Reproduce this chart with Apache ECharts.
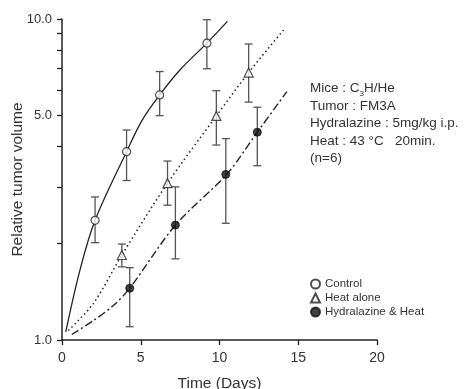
<!DOCTYPE html>
<html>
<head>
<meta charset="utf-8">
<script src="https://cdn.jsdelivr.net/npm/echarts@6/dist/echarts.min.js"></script>
<style>
  html, body { margin: 0; padding: 0; background: #fff; }
  #main { width: 464px; height: 389px; }
</style>
</head>
<body>
<div id="main"></div>
<script>
// measured points (x = days, y = relative volume) with error bar ends
const controlX  = [2.1, 4.1, 6.2, 9.2];
const controlY  = [2.36, 3.86, 5.8, 8.41];
const controlLo = [2.01, 3.14, 5.0, 7.0];
const controlHi = [2.79, 4.51, 6.86, 9.95];

const heatX  = [3.8, 6.7, 9.8, 11.85];
const heatY  = [1.84, 3.08, 4.99, 6.81];
const heatLo = [1.69, 2.63, 4.05, 5.51];
const heatHi = [1.99, 3.61, 5.98, 8.36];

const hydX  = [4.3, 7.2, 10.4, 12.4];
const hydY  = [1.45, 2.28, 3.28, 4.44];
const hydLo = [1.10, 1.79, 2.31, 3.49];
const hydHi = [1.68, 3.0, 4.24, 5.31];

// fitted curves as drawn
const controlCurve = [[0.24, 1.06], [1.14, 1.65], [2.1, 2.36], [4.1, 3.86],
  [5.1, 4.85], [6.2, 5.8], [7.5, 6.95], [9.2, 8.41], [10.5, 9.83]];
const heatCurve = [[0.4, 1.07], [2.0, 1.3], [3.8, 1.84], [6.7, 3.08], [9.8, 4.99], [11.85, 6.81], [14.17, 9.37]];
const hydCurve = [[0.62, 1.04], [2.0, 1.15], [3.26, 1.28], [4.3, 1.45], [7.2, 2.28], [10.5, 3.3], [12.4, 4.44], [14.28, 5.94]];

const yTicks = [1, 2, 3, 4, 5, 6, 7, 8, 9, 10];
const yLabels = [1, 5, 10];

const FONT = 'Liberation Sans, Arial, sans-serif';
const INK = '#222';

const pts = (xs, ys) => xs.map((x, i) => [x, ys[i]]);
const bars = (xs, lo, hi) => xs.map((x, i) => [x, lo[i], hi[i]]);

function errBar(params, api) {
  const x = api.value(0);
  const a = api.coord([x, api.value(1)]);
  const b = api.coord([x, api.value(2)]);
  const w = 4;
  const st = { stroke: '#555', lineWidth: 1.3 };
  return {
    type: 'group',
    children: [
      { type: 'line', shape: { x1: a[0], y1: a[1], x2: b[0], y2: b[1] }, style: st },
      { type: 'line', shape: { x1: a[0] - w, y1: a[1], x2: a[0] + w, y2: a[1] }, style: st },
      { type: 'line', shape: { x1: b[0] - w, y1: b[1], x2: b[0] + w, y2: b[1] }, style: st }
    ]
  };
}

const chart = echarts.init(document.getElementById('main'));
chart.setOption({
  animation: false,
  textStyle: { fontFamily: FONT },
  grid: { left: 62, right: 87, top: 19, bottom: 49, containLabel: false, outerBoundsMode: 'none' },
  xAxis: {
    type: 'value', min: 0, max: 20, interval: 5,
    name: 'Time (Days)', nameLocation: 'middle', nameGap: 36, nameMoveOverlap: false,
    nameTextStyle: { fontSize: 15.5, color: '#333', fontFamily: FONT },
    axisLine: { lineStyle: { color: INK, width: 1.5 } },
    axisTick: { length: 5, lineStyle: { color: INK, width: 1.3 } },
    axisLabel: { color: '#333', fontSize: 14, margin: 11, fontFamily: FONT },
    splitLine: { show: false }
  },
  yAxis: {
    type: 'log', logBase: 10, min: 1, max: 10,
    name: 'Relative tumor volume', nameLocation: 'middle', nameGap: 36, nameMoveOverlap: false,
    nameTextStyle: { fontSize: 15.5, color: '#333', fontFamily: FONT },
    axisLine: { show: true, lineStyle: { color: INK, width: 1.5 } },
    axisTick: { show: true, length: 5, customValues: yTicks, lineStyle: { color: INK, width: 1.3 } },
    axisLabel: { customValues: yLabels, color: '#333', fontSize: 13, margin: 10, fontFamily: FONT,
      formatter: v => Number(v).toFixed(1) },
    splitLine: { show: false }
  },
  legend: {
    orient: 'vertical', left: 305, top: 273, itemWidth: 9, itemHeight: 9, itemGap: 2,
    textStyle: { fontSize: 11.5, color: '#333', fontFamily: FONT },
    data: [
      { name: 'Control', icon: 'circle' },
      { name: 'Heat alone', icon: 'triangle' },
      { name: 'Hydralazine & Heat', icon: 'circle' }
    ]
  },
  graphic: [{
    type: 'text', left: 310, top: 80,
    style: {
      text: 'Mice : C{s|3}H/He\nTumor : FM3A\nHydralazine : 5mg/kg i.p.\nHeat : 43 \u00b0C   20min.\n(n=6)',
      font: '13.5px ' + FONT, fill: '#333', lineHeight: 17.5,
      rich: { s: { fontSize: 8, verticalAlign: 'bottom', lineHeight: 17.5, fill: '#333', padding: [6, 0, 0, 0] } }
    }
  }],
  series: [
    { name: 'c-fit', type: 'line', data: controlCurve, smooth: 0.35, showSymbol: false, silent: true,
      lineStyle: { color: INK, width: 1.3 }, z: 2 },
    { name: 'h-fit', type: 'line', data: heatCurve, smooth: 0.3, showSymbol: false, silent: true,
      lineStyle: { color: INK, width: 1.5, type: [1.5, 3] }, z: 2 },
    { name: 'd-fit', type: 'line', data: hydCurve, smooth: 0.3, showSymbol: false, silent: true,
      lineStyle: { color: INK, width: 1.4, type: [8, 3, 2, 3] }, z: 2 },
    { name: 'c-err', type: 'custom', renderItem: errBar, data: bars(controlX, controlLo, controlHi), z: 3 },
    { name: 'h-err', type: 'custom', renderItem: errBar, data: bars(heatX, heatLo, heatHi), z: 3 },
    { name: 'd-err', type: 'custom', renderItem: errBar, data: bars(hydX, hydLo, hydHi), z: 3 },
    { name: 'Control', type: 'scatter', data: pts(controlX, controlY), symbol: 'circle', symbolSize: 8,
      itemStyle: { color: '#fff', borderColor: INK, borderWidth: 1.2 }, z: 5 },
    { name: 'Heat alone', type: 'scatter', data: pts(heatX, heatY), symbol: 'triangle', symbolSize: 9,
      itemStyle: { color: '#fff', borderColor: INK, borderWidth: 1.2 }, z: 5 },
    { name: 'Hydralazine & Heat', type: 'scatter', data: pts(hydX, hydY), symbol: 'circle', symbolSize: 8,
      itemStyle: { color: '#111', borderColor: '#111', borderWidth: 1 }, z: 5 }
  ]
});
</script>
</body>
</html>
